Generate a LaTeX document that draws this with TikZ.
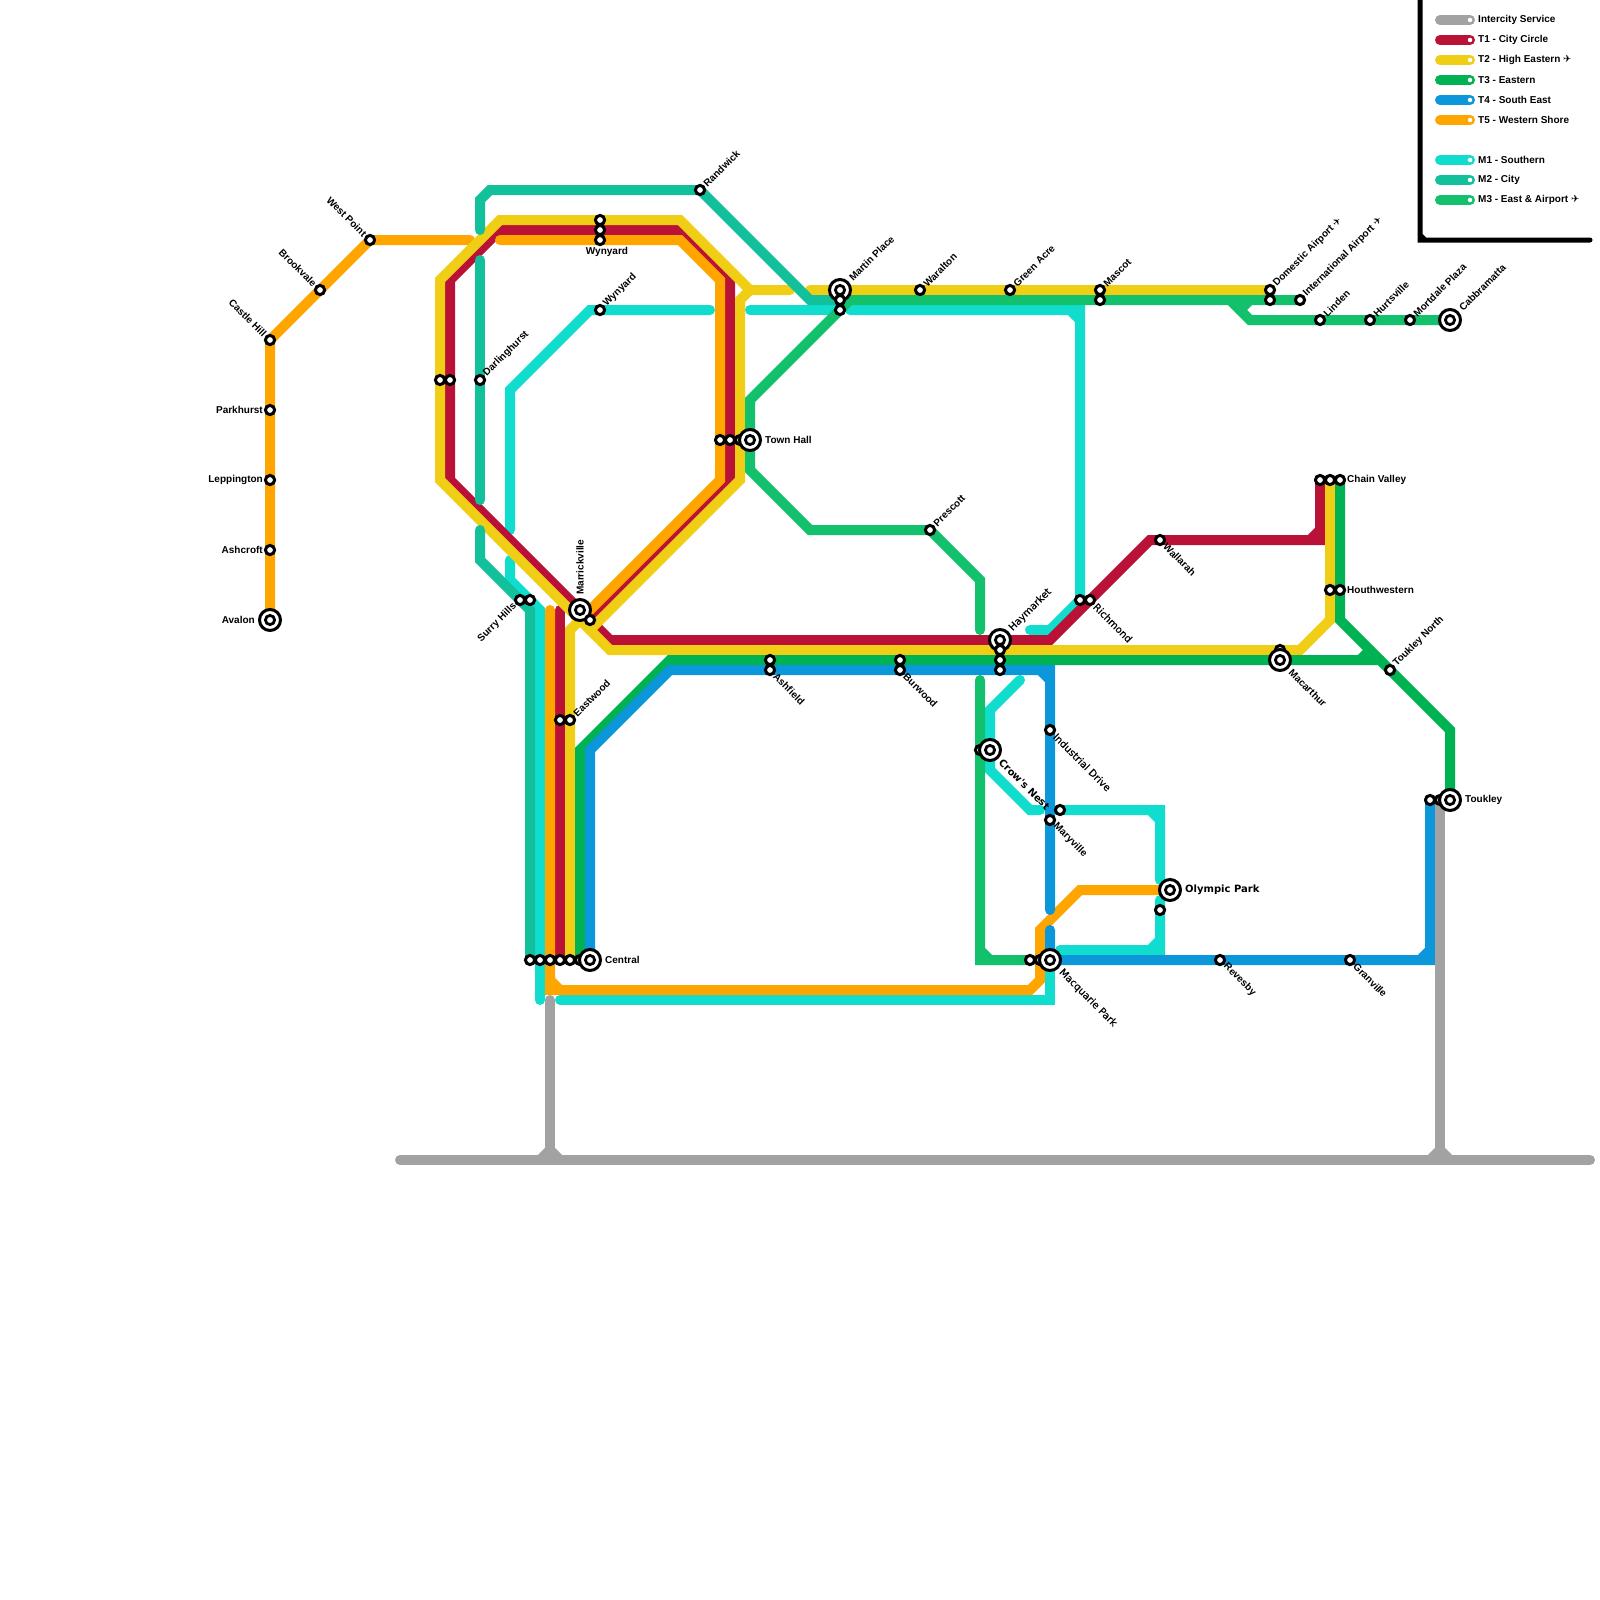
\documentclass[tikz,border=0pt]{standalone}
\usepackage{fontspec}
\setmainfont{Liberation Sans}
\newfontfamily\wideface{DejaVu Sans}
\newfontfamily\midface[FakeBold=0.15]{DejaVu Sans}
\newcommand{\planesign}{{\wideface\char"2708}}
\definecolor{lineic}{HTML}{A2A2A2}
\definecolor{linetone}{HTML}{BA1237}
\definecolor{linettwo}{HTML}{F0CE15}
\definecolor{linetthree}{HTML}{00B251}
\definecolor{linetfour}{HTML}{0B97D9}
\definecolor{linetfive}{HTML}{FFA500}
\definecolor{linemone}{HTML}{11DDCE}
\definecolor{linemtwo}{HTML}{12C19C}
\definecolor{linemthree}{HTML}{13C16D}
\begin{document}
\begin{tikzpicture}[x=1pt,y=-1pt]
  \tikzstyle{rail}=[line width=10pt,line cap=round,line join=miter]
  \tikzstyle{stn}=[circle,draw=black,fill=white,line width=3pt,minimum size=9.2pt,inner sep=0pt,outer sep=0pt]
  \tikzstyle{hub}=[circle,draw=black,fill=white,line width=3pt,minimum size=21pt,inner sep=0pt,outer sep=0pt,
    path picture={\draw[line width=2.8pt] (path picture bounding box.center) circle (4.6pt);}]
  \tikzstyle{lbl}=[font=\bfseries\fontsize{10pt}{11pt}\selectfont,inner ysep=0pt,inner xsep=7pt,text=black]
  \tikzstyle{lble}=[lbl,anchor=west]
  \tikzstyle{lblw}=[lbl,anchor=east]
  \tikzstyle{lblne}=[lbl,anchor=west,rotate=45]
  \tikzstyle{lblse}=[lbl,anchor=west,rotate=-45]
  \tikzstyle{lblnw}=[lbl,anchor=east,rotate=-45]
  \tikzstyle{lblsw}=[lbl,anchor=east,rotate=45]
  \tikzstyle{far}=[inner xsep=15pt]
  \tikzstyle{wide}=[font=\wideface\bfseries\fontsize{10pt}{11pt}\selectfont]
  \tikzstyle{mid}=[font=\midface\fontsize{10pt}{11pt}\selectfont]
  \tikzstyle{keytext}=[font=\bfseries\fontsize{10pt}{11pt}\selectfont,anchor=west,inner sep=0pt]
  \tikzstyle{keydot}=[circle,fill=white,minimum size=4.5pt,inner sep=0pt]
  \useasboundingbox (0,0) rectangle (1600,1600);

  % M1
  \draw[rail,linemone] (710,310) -- (590,310) -- (510,390) -- (510,530);
  \draw[rail,linemone] (750,310) -- (840,310);
  \draw[rail,linemone] (850,310) -- (1080,310) -- (1080,600) -- (1050,630) -- (1030,630) (1070,310) -- (1080,320);
  \draw[rail,linemone] (510,560) -- (510,580) -- (540,610) -- (540,1000);
  \draw[rail,linemone] (560,1000) -- (1050,1000) -- (1050,960);
  \draw[rail,linemone] (1020,680) -- (990,710) -- (990,770) -- (1030,810) -- (1040,810);
  \draw[rail,linemone] (1060,810) -- (1160,810) -- (1160,880) (1150,810) -- (1160,820);
  \draw[rail,linemone] (1060,950) -- (1160,950) -- (1160,900) (1150,950) -- (1160,940);
  % T1
  \draw[rail,linetone] (560,610) -- (560,960);
  \draw[rail,linetone] (1320,480) -- (1320,540) -- (1150,540) -- (1050,640) -- (610,640) -- (450,480) -- (450,280) -- (500,230) -- (680,230) -- (730,280) -- (730,480) -- (590,620) (1310,540) -- (1320,530);
  % T5
  \draw[rail,linetfive] (270,620) -- (270,340) -- (370,240) -- (470,240);
  \draw[rail,linetfive] (500,240) -- (680,240) -- (720,280) -- (720,480) -- (590,610);
  \draw[rail,linetfive] (550,610) -- (550,990) -- (1030,990) -- (1040,980) -- (1040,930) -- (1080,890) -- (1160,890) (550,980) -- (560,990);
  % T2
  \draw[rail,linettwo] (1330,480) -- (1330,620) -- (1300,650) -- (610,650) -- (440,480) -- (440,280) -- (500,220) -- (680,220) -- (750,290) -- (790,290);
  \draw[rail,linettwo] (570,960) -- (570,630) -- (580,620);
  \draw[rail,linettwo] (750,290) -- (740,300) -- (740,480) -- (590,630);
  \draw[rail,linettwo] (810,290) -- (1270,290);
  % M3
  \draw[rail,linemthree] (840,310) -- (750,400) -- (750,470) -- (810,530) -- (930,530) -- (980,580) -- (980,630);
  \draw[rail,linemthree] (980,680) -- (980,960) -- (1030,960) (980,950) -- (990,960);
  \draw[rail,linemthree] (840,310) -- (850,300) -- (1300,300);
  \draw[rail,linemthree] (1230,300) -- (1250,320) -- (1450,320);
  \draw[rail,linemthree] (1250,300) -- (1240,310);
  % T3
  \draw[rail,linetthree] (580,960) -- (580,750) -- (670,660) -- (1380,660);
  \draw[rail,linetthree] (1340,480) -- (1340,620) -- (1450,730) -- (1450,800);
  \draw[rail,linetthree] (1360,660) -- (1370,650);
  % T4
  \draw[rail,linetfour] (590,960) -- (590,750) -- (670,670) -- (1050,670) -- (1050,910) (1040,670) -- (1050,680);
  \draw[rail,linetfour] (1050,930) -- (1050,960) -- (1430,960) -- (1430,800) (1420,960) -- (1430,950);
  % M2
  \draw[rail,linemtwo] (480,230) -- (480,200) -- (490,190) -- (700,190) -- (810,300) -- (840,300);
  \draw[rail,linemtwo] (480,260) -- (480,500);
  \draw[rail,linemtwo] (480,530) -- (480,560) -- (530,610) -- (530,960);
  % intercity
  \draw[rail,lineic] (550,1000) -- (550,1160);
  \draw[rail,lineic] (1440,800) -- (1440,1160);
  \draw[rail,lineic] (400,1160) -- (1590,1160);
  \draw[rail,lineic] (540,1160) -- (550,1150) -- (560,1160);
  \draw[rail,lineic] (1430,1160) -- (1440,1150) -- (1450,1160);

  % west branch
  \node[stn] (castlehill) at (270,340) {};
  \node[lblnw] (castlehilltxt) at (castlehill) {Castle Hill};
  \node[stn] (brookvale) at (320,290) {};
  \node[lblnw] (brookvaletxt) at (brookvale) {Brookvale};
  \node[stn] (westpoint) at (370,240) {};
  \node[lblnw] (westpointtxt) at (westpoint) {West Point};
  \node[stn] (parkhurst) at (270,410) {};
  \node[lblw] (parkhursttxt) at (parkhurst) {Parkhurst};
  \node[stn] (leppington) at (270,480) {};
  \node[lblw] (leppingtontxt) at (leppington) {Leppington};
  \node[stn] (ashcroft) at (270,550) {};
  \node[lblw] (ashcrofttxt) at (ashcroft) {Ashcroft};
  \node[hub] (avalon) at (270,620) {};
  \node[lblw,far] (avalontxt) at (avalon) {Avalon};

  % inner loop
  \node[stn] (darlinga) at (440,380) {};
  \node[stn] (darlingb) at (450,380) {};
  \node[stn] (darlinghurst) at (480,380) {};
  \node[lblne] (darlinghursttxt) at (darlinghurst) {Darlinghurst};
  \node[stn] (randwick) at (700,190) {};
  \node[lblne] (randwicktxt) at (randwick) {Randwick};
  \node[stn] (wynyarda) at (600,220) {};
  \node[stn] (wynyardb) at (600,230) {};
  \node[stn] (wynyardc) at (600,240) {};
  \node[lbl,anchor=north,inner xsep=0pt] (wynyardtxt) at (607,247) {Wynyard};
  \node[stn] (wynyardm) at (600,310) {};
  \node[lblne] (wynyardmtxt) at (wynyardm) {Wynyard};
  \node[stn] (surrya) at (530,600) {};
  \node[stn] (surryb) at (520,600) {};
  \node[lblsw] (surrytxt) at (surryb) {Surry Hills};
  \node[hub] (marrickville) at (580,610) {};
  \node[lbl,anchor=west,rotate=90,inner xsep=15pt] (marrickvilletxt) at (marrickville) {Marrickville};
  \node[stn] (marrickb) at (590,620) {};
  \node[stn] (eastwooda) at (560,720) {};
  \node[stn] (eastwood) at (570,720) {};
  \node[lblne] (eastwoodtxt) at (eastwood) {Eastwood};
  \node[stn] (centrala) at (530,960) {};
  \node[stn] (centralb) at (540,960) {};
  \node[stn] (centralc) at (550,960) {};
  \node[stn] (centrald) at (560,960) {};
  \node[stn] (centrale) at (570,960) {};
  \node[stn] (centralf) at (580,960) {};
  \node[hub] (central) at (590,960) {};
  \node[lble,far] (centraltxt) at (central) {Central};
  \node[stn] (townhalla) at (720,440) {};
  \node[stn] (townhallb) at (730,440) {};
  \node[stn] (townhallc) at (740,440) {};
  \node[hub] (townhall) at (750,440) {};
  \node[lble,far] (townhalltxt) at (townhall) {Town Hall};

  % north line
  \node[hub] (martin) at (840,290) {};
  \node[lblne,far] (martintxt) at (martin) {Martin Place};
  \node[stn] (martinb) at (840,300) {};
  \node[stn] (martinc) at (840,310) {};
  \node[stn] (waralton) at (920,290) {};
  \node[lblne] (waraltontxt) at (waralton) {Waralton};
  \node[stn] (greenacre) at (1010,290) {};
  \node[lblne] (greenacretxt) at (greenacre) {Green Acre};
  \node[stn] (mascot) at (1100,290) {};
  \node[lblne] (mascottxt) at (mascot) {Mascot};
  \node[stn] (mascotb) at (1100,300) {};
  \node[stn] (domestic) at (1270,290) {};
  \node[lblne] (domestictxt) at (domestic) {Domestic Airport \planesign};
  \node[stn] (domesticb) at (1270,300) {};
  \node[stn] (intl) at (1300,300) {};
  \node[lblne] (intltxt) at (intl) {International Airport \planesign};
  \node[stn] (linden) at (1320,320) {};
  \node[lblne] (lindentxt) at (linden) {Linden};
  \node[stn] (hurtsville) at (1370,320) {};
  \node[lblne] (hurtsvilletxt) at (hurtsville) {Hurtsville};
  \node[stn] (mortdale) at (1410,320) {};
  \node[lblne] (mortdaletxt) at (mortdale) {Mortdale Plaza};
  \node[hub] (cabbramatta) at (1450,320) {};
  \node[lblne,far] (cabbramattatxt) at (cabbramatta) {Cabbramatta};
  \node[stn] (prescott) at (930,530) {};
  \node[lblne] (prescotttxt) at (prescott) {Prescott};

  % middle band
  \node[stn] (ashfield) at (770,660) {};
  \node[stn] (ashfieldb) at (770,670) {};
  \node[lblse] (ashfieldtxt) at (ashfieldb) {Ashfield};
  \node[stn] (burwood) at (900,660) {};
  \node[stn] (burwoodb) at (900,670) {};
  \node[lblse] (burwoodtxt) at (burwoodb) {Burwood};
  \node[hub] (haymarket) at (1000,640) {};
  \node[lblne,far,mid] (haymarkettxt) at (haymarket) {Haymarket};
  \node[stn] (haymarketb) at (1000,650) {};
  \node[stn] (haymarketc) at (1000,660) {};
  \node[stn] (haymarketd) at (1000,670) {};
  \node[stn] (richmonda) at (1080,600) {};
  \node[stn] (richmond) at (1090,600) {};
  \node[lblse,mid] (richmondtxt) at (richmond) {Richmond};
  \node[stn] (wallarah) at (1160,540) {};
  \node[lblse] (wallarahtxt) at (wallarah) {Wallarah};
  \node[stn] (chaina) at (1320,480) {};
  \node[stn] (chainb) at (1330,480) {};
  \node[stn] (chain) at (1340,480) {};
  \node[lble] (chaintxt) at (chain) {Chain Valley};
  \node[stn] (houtha) at (1330,590) {};
  \node[stn] (houth) at (1340,590) {};
  \node[lble] (houthtxt) at (houth) {Houthwestern};
  \node[stn] (macarthurb) at (1280,650) {};
  \node[hub] (macarthur) at (1280,660) {};
  \node[lblse,far] (macarthurtxt) at (macarthur) {Macarthur};
  \node[stn] (toukleyn) at (1390,670) {};
  \node[lblne] (toukleyntxt) at (toukleyn) {Toukley North};
  \node[stn] (toukleya) at (1430,800) {};
  \node[stn] (toukleyb) at (1440,800) {};
  \node[hub] (toukley) at (1450,800) {};
  \node[lble,far] (toukleytxt) at (toukley) {Toukley};

  % south east
  \node[stn] (industrial) at (1050,730) {};
  \node[lblse,mid] (industrialtxt) at (industrial) {Industrial Drive};
  \node[stn] (maryvillea) at (1060,810) {};
  \node[stn] (maryville) at (1050,820) {};
  \node[lblse] (maryvilletxt) at (maryville) {Maryville};
  \node[stn] (crowsa) at (980,750) {};
  \node[hub] (crows) at (990,750) {};
  \node[lblse,far,wide] (crowstxt) at (crows) {Crow's Nest};
  \node[hub] (olympic) at (1170,890) {};
  \node[lble,far,wide] (olympictxt) at (olympic) {Olympic Park};
  \node[stn] (olympicb) at (1160,910) {};
  \node[stn] (macquariea) at (1030,960) {};
  \node[stn] (macquarieb) at (1040,960) {};
  \node[hub] (macquarie) at (1050,960) {};
  \node[lblse,far,mid] (macquarietxt) at (macquarie) {Macquarie Park};
  \node[stn] (revesby) at (1220,960) {};
  \node[lblse] (revesbytxt) at (revesby) {Revesby};
  \node[stn] (granville) at (1350,960) {};
  \node[lblse] (granvilletxt) at (granville) {Granville};

  % key
  \draw[line width=5pt,line cap=round,line join=miter] (1420,0) -- (1420,240) -- (1590,240) (1420,235) -- (1425,240);
  \draw[rail,lineic] (1440,20) -- (1470,20);
  \node[keydot] (dotic) at (1470,20) {};
  \node[keytext] (keyic) at (1478,20) {Intercity Service};
  \draw[rail,linetone] (1440,40) -- (1470,40);
  \node[keydot] (dotone) at (1470,40) {};
  \node[keytext] (keyone) at (1478,40) {T1 - City Circle};
  \draw[rail,linettwo] (1440,60) -- (1470,60);
  \node[keydot] (dottwo) at (1470,60) {};
  \node[keytext] (keytwo) at (1478,60) {T2 - High Eastern \planesign};
  \draw[rail,linetthree] (1440,80) -- (1470,80);
  \node[keydot] (dotthree) at (1470,80) {};
  \node[keytext] (keythree) at (1478,80) {T3 - Eastern};
  \draw[rail,linetfour] (1440,100) -- (1470,100);
  \node[keydot] (dotfour) at (1470,100) {};
  \node[keytext] (keyfour) at (1478,100) {T4 - South East};
  \draw[rail,linetfive] (1440,120) -- (1470,120);
  \node[keydot] (dotfive) at (1470,120) {};
  \node[keytext] (keyfive) at (1478,120) {T5 - Western Shore};
  \draw[rail,linemone] (1440,160) -- (1470,160);
  \node[keydot] (dotmone) at (1470,160) {};
  \node[keytext] (keymone) at (1478,160) {M1 - Southern};
  \draw[rail,linemtwo] (1440,180) -- (1470,180);
  \node[keydot] (dotmtwo) at (1470,180) {};
  \node[keytext] (keymtwo) at (1478,180) {M2 - City};
  \draw[rail,linemthree] (1440,200) -- (1470,200);
  \node[keydot] (dotmthree) at (1470,200) {};
  \node[keytext] (keymthree) at (1478,200) {M3 - East \& Airport \planesign};
\end{tikzpicture}
\end{document}
